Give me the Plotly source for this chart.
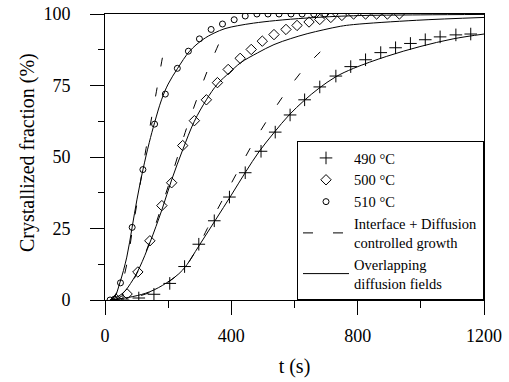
import plotly.graph_objects as go

# ---- data ----
t490 = [57, 107, 155, 205, 252, 297, 346, 394, 444, 494, 539, 586, 632, 680, 731, 778, 825, 873, 920, 967, 1014, 1061, 1111, 1158]
y490 = [0, 0.7, 2, 5.8, 11.7, 19.5, 27.7, 36, 44.5, 52, 58.7, 64.7, 70, 74.5, 78.3, 81.6, 84, 86.5, 88.2, 89.7, 91, 92, 92.7, 93]

t500 = [36, 70, 104, 142, 180, 211, 246, 283, 321, 356, 390, 428, 463, 498, 535, 573, 608, 646, 680, 715, 750, 787, 825, 860, 894, 932]
y500 = [0.2, 2.1, 9.8, 20.7, 33, 41, 54, 62.7, 70, 76, 80.6, 84.5, 87.6, 90.5, 92.8, 94.6, 96, 97.2, 98.1, 98.8, 99.5, 100, 100, 100, 100, 100]

t510 = [16, 30, 49, 86, 120, 157, 191, 229, 264, 299, 336, 372, 409, 444, 481, 516, 551, 589, 624, 661, 696]
y510 = [0, 0.3, 6, 25.4, 45.6, 61.5, 72, 81, 87, 91.3, 94.6, 96.5, 98, 99.3, 100, 100, 100, 100, 100, 100, 100]

# Interface + diffusion controlled growth (dashed)
td490 = [20, 100, 150, 200, 250, 300, 324, 372, 425, 467, 520, 575, 635, 700]
yd490 = [0, 1.2, 3, 6.2, 11, 19.7, 25, 35, 46, 54.5, 64, 73, 81.5, 88.7]
td500 = [30, 60, 90, 110, 142, 180, 214, 258, 290, 325, 362]
yd500 = [0, 2, 7, 11.5, 20.5, 33, 44.5, 60, 70, 80.4, 90]
td510 = [20, 50, 70, 86, 100, 115, 130, 148, 163, 184, 190]
yd510 = [0, 5, 13, 24, 33, 43, 53, 64, 73, 86, 89]

# Overlapping diffusion fields (solid)
ts490 = [16, 88, 142, 195, 246, 299, 350, 400, 446, 488, 535, 583, 630, 677, 730, 787, 892, 997, 1102, 1200]
ys490 = [0, 1.2, 2.9, 6, 10.5, 19.2, 28, 36.7, 44.9, 51.9, 58.5, 64.7, 69.7, 74, 78, 81, 85.2, 88.6, 91.3, 93]
ts500 = [25, 57, 88, 110, 142, 180, 211, 246, 283, 321, 356, 394, 430, 483, 535, 588, 640, 693, 745, 787, 986, 1200]
ys500 = [0.3, 2.4, 7, 11.5, 20, 31.5, 42, 52.5, 62.5, 70, 75.5, 79.5, 83, 86.4, 89.3, 91.4, 93.1, 94.5, 95.7, 96.3, 97.8, 98.8]
ts510 = [15, 30, 47, 69, 86, 101, 120, 140, 157, 179, 200, 230, 268, 309, 345, 380, 420, 470, 540, 640, 787, 1000, 1200]
ys510 = [0, 1, 6, 15, 25.5, 35, 45.5, 55, 62, 70, 75.5, 81, 87, 91, 93.3, 94.9, 95.9, 96.8, 97.7, 98.6, 99.4, 99.7, 99.85]

x_ticks = [0, 400, 800, 1200]
y_ticks = [0, 25, 50, 75, 100]
x_title = "t (s)"
y_title = "Crystallized fraction (%)"

SERIF = "Liberation Serif, Times New Roman, serif"
DASH = "9px,21px"
fig = go.Figure()

# model curves
for tx, ty in [(ts490, ys490), (ts500, ys500), (ts510, ys510)]:
    fig.add_trace(go.Scatter(x=tx, y=ty, mode="lines", line=dict(color="black", width=1, shape="spline"),
                             showlegend=False, hoverinfo="skip"))
for tx, ty in [(td490, yd490), (td500, yd500), (td510, yd510)]:
    fig.add_trace(go.Scatter(x=tx, y=ty, mode="lines",
                             line=dict(color="black", width=1, dash=DASH, shape="spline"),
                             showlegend=False, hoverinfo="skip"))

# data points
fig.add_trace(go.Scatter(x=t490, y=y490, mode="markers", name="490 °C", legendrank=1,
                         marker=dict(symbol="cross-thin", size=9, color="black", line=dict(width=1, color="black"))))
fig.add_trace(go.Scatter(x=t500, y=y500, mode="markers", name="500 °C", legendrank=2,
                         marker=dict(symbol="diamond-open", size=8, color="black", line=dict(width=1, color="black"))))
fig.add_trace(go.Scatter(x=t510, y=y510, mode="markers", name="510 °C", legendrank=3,
                         marker=dict(symbol="circle-open", size=6, color="black", line=dict(width=1, color="black"))))

# legend-only entries for the lines
fig.add_trace(go.Scatter(x=[None], y=[None], mode="lines", name="Interface + Diffusion<br>controlled growth",
                         line=dict(color="black", width=1, dash="10px,20px"), legendrank=4))
fig.add_trace(go.Scatter(x=[None], y=[None], mode="lines", name="Overlapping<br>diffusion fields",
                         line=dict(color="black", width=1), legendrank=5))

fig.update_layout(
    width=509, height=382,
    margin=dict(l=105, r=25, t=14, b=82),
    paper_bgcolor="white", plot_bgcolor="white",
    font=dict(family=SERIF, color="black", size=18),
    showlegend=True,
    legend=dict(x=1, xanchor="right", y=0, yanchor="bottom",
                bordercolor="black", borderwidth=1, bgcolor="white",
                font=dict(family=SERIF, size=14.5, color="black"),
                tracegroupgap=0, itemwidth=46),
    annotations=[dict(text=y_title, xref="paper", yref="paper", x=-0.203, y=0.514,
                      xanchor="center", yanchor="middle", textangle=-90, showarrow=False,
                      font=dict(family=SERIF, size=20, color="black"))],
)
fig.update_xaxes(range=[0, 1200], tickvals=x_ticks, ticktext=[str(v) for v in x_ticks],
                 showline=True, linecolor="black", linewidth=1, mirror=True,
                 ticks="outside", ticklen=14, tickwidth=1, tickcolor="black",
                 minor=dict(dtick=200, ticks="outside", ticklen=7, tickcolor="black", tickwidth=1),
                 showgrid=False, zeroline=False, ticklabelstandoff=5, automargin=False,
                 ticklabeloverflow="allow",
                 tickfont=dict(size=18),
                 title=dict(text=x_title, font=dict(size=20), standoff=14))
fig.update_yaxes(range=[0, 100], tickvals=y_ticks, ticktext=[str(v) for v in y_ticks],
                 showline=True, linecolor="black", linewidth=1, mirror=True,
                 ticks="outside", ticklen=14, tickwidth=1, tickcolor="black",
                 minor=dict(dtick=12.5, ticks="outside", ticklen=6, tickcolor="black", tickwidth=1),
                 showgrid=False, zeroline=False, ticklabelstandoff=16, automargin=False,
                 ticklabeloverflow="allow",
                 tickfont=dict(size=18))

# remove the default 8px page margin so the figure sits at the window's corner
fig.write_html("out.html", config={"displayModeBar": False},
               post_script="document.body.style.margin='0px';")
